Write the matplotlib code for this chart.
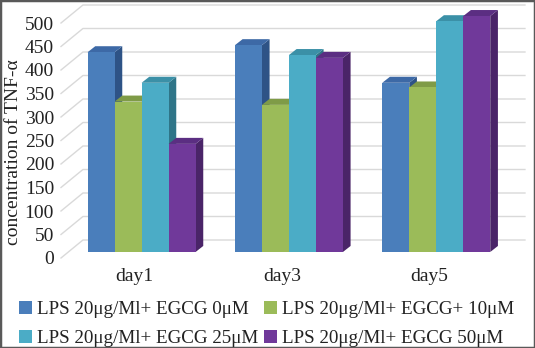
import matplotlib
matplotlib.use("Agg")
import matplotlib.pyplot as plt
from matplotlib.patches import Polygon, Rectangle, Patch

plt.rcParams['font.family'] = ['Liberation Serif', 'DejaVu Serif']

# data
days = ['day1', 'day3', 'day5']
series = ['LPS 20\u03bcg/Ml+ EGCG 0\u03bcM',
          'LPS 20\u03bcg/Ml+ EGCG+ 10\u03bcM',
          'LPS 20\u03bcg/Ml+ EGCG 25\u03bcM',
          'LPS 20\u03bcg/Ml+ EGCG 50\u03bcM']
egcg_0 = [425, 440, 360]
egcg_10 = [320, 313, 350]
egcg_25 = [360, 419, 491]
egcg_50 = [230, 413, 502]
y_ticks = list(range(0, 501, 50))

# (front, top, side) colours per series
colors = [('#4a7ebb', '#3d69a6', '#2e5386'),
          ('#9bbb59', '#7f9b47', '#6b843a'),
          ('#4bacc6', '#3b90a7', '#2f7588'),
          ('#70399a', '#5b2e82', '#4a2468')]

# fake-3d geometry in data units
WX, WY = 0.149, 38.3      # back wall offset
FX, FY = 0.047, 12.8      # bar front offset from front plane
BX, BY = 0.052, 12.8      # bar depth
gap = 0.267
bw = (1 - gap) / 4


def bar3d(ax, x0, v, front, top, side):
    x = x0 + FX
    y0 = FY
    y1 = v + FY
    ax.add_patch(Polygon([(x + bw, y0), (x + bw + BX, y0 + BY),
                          (x + bw + BX, y1 + BY), (x + bw, y1)],
                         closed=True, fc=side, ec='none', clip_on=False, zorder=3))
    ax.add_patch(Polygon([(x, y1), (x + bw, y1), (x + bw + BX, y1 + BY),
                          (x + BX, y1 + BY)],
                         closed=True, fc=top, ec='none', clip_on=False, zorder=3))
    ax.add_patch(Rectangle((x, y0), bw, v, fc=front, ec='none',
                           clip_on=False, zorder=3))


fig = plt.figure(figsize=(5.35, 3.48), dpi=100)
ax = fig.add_axes([61 / 535, 90 / 348, 442 / 535, 235 / 348])
ax.set_xlim(0, 3)
ax.set_ylim(0, 500)

# gridlines on side and back wall
for v in y_ticks:
    ax.plot([0, WX, 3 + WX], [v, v + WY, v + WY], color='#d9d9d9', lw=1,
            clip_on=False, zorder=1)

all_vals = [egcg_0, egcg_10, egcg_25, egcg_50]
for i in range(len(days)):
    for j, vals in enumerate(all_vals):
        x0 = i + gap / 2 + j * bw
        bar3d(ax, x0, vals[i], *colors[j])

for s in ax.spines.values():
    s.set_visible(False)
ax.set_yticks(y_ticks)
ax.set_yticklabels([str(t) for t in y_ticks])
ax.set_xticks([0.5, 1.5, 2.5])
ax.set_xticklabels(days)
ax.tick_params(length=0, labelsize=14, labelcolor='#222222')
ax.tick_params(axis='y', pad=5)
ax.tick_params(axis='x', pad=7)
ax.patch.set_visible(False)

fig.text(14 / 535, 1 - 152 / 348, 'concentration of TNF-\u03b1', rotation=90,
         ha='center', va='center', fontsize=14, color='#222222')

# legend is filled column by column, so reorder to get rows like the reference
order = [0, 2, 1, 3]
handles = [Patch(fc=colors[k][0], ec='none') for k in order]
labels = [series[k] for k in order]
fig.legend(handles, labels, loc='upper left', bbox_to_anchor=(19 / 535, 1 - 301 / 348),
           ncol=2, frameon=False, fontsize=13.7, handlelength=0.7, handleheight=0.7,
           handletextpad=0.25, columnspacing=0.3, labelspacing=0.62,
           borderpad=0, borderaxespad=0, labelcolor='#222222')

fig.patches.append(Rectangle((0, 0), 1, 1, transform=fig.transFigure, fill=False,
                             ec='#595959', lw=2.5))

fig.savefig('out.png', dpi=100)
